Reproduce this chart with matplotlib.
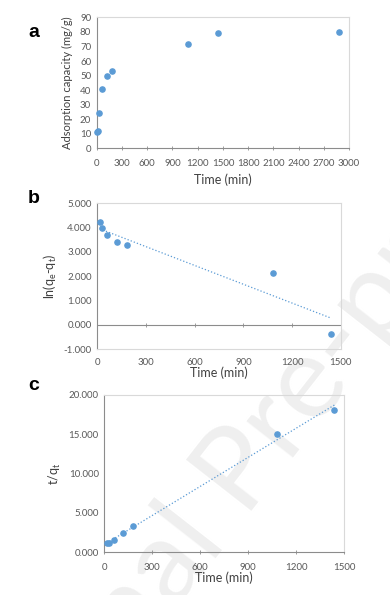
import matplotlib
matplotlib.use("Agg")
import matplotlib.pyplot as plt
import numpy as np
from matplotlib.ticker import FormatStrFormatter, MultipleLocator

plt.rcParams["font.family"] = ["Lato", "DejaVu Sans"]

# ======= data =======
# (a) adsorption capacity vs time
time_a = [5, 15, 30, 60, 120, 180, 1080, 1440, 2880]
qt_a = [11.0, 12.2, 24.5, 40.5, 49.5, 53.1, 71.6, 79.5, 80.2]

# (b) pseudo-first-order plot
time_b = [15, 30, 60, 120, 180, 1080, 1440]
ln_b = [4.22, 4.00, 3.69, 3.42, 3.30, 2.14, -0.36]

# (c) pseudo-second-order plot
time_c = [15, 30, 60, 120, 180, 1080, 1440]
tq_c = [1.20, 1.20, 1.50, 2.40, 3.40, 15.10, 18.10]

blue = "#5B9BD5"
tick_col = "#595959"
axis_col = "#8c8c8c"
frame_col = "#d9d9d9"

fig = plt.figure(figsize=(3.9, 5.95), dpi=100)

# watermark
fig.text(0.64, 0.225, "Journal Pre-proof", fontsize=84, color="#efefef",
         rotation=52, ha="center", va="center", zorder=-1)


def style(ax):
    ax.set_facecolor("none")
    for s in ["top", "right"]:
        ax.spines[s].set_color(frame_col)
        ax.spines[s].set_linewidth(0.8)
    for s in ["left", "bottom"]:
        ax.spines[s].set_color(axis_col)
        ax.spines[s].set_linewidth(0.8)
    ax.tick_params(labelsize=7, colors=tick_col, length=3, width=0.6,
                   direction="inout", color=axis_col)
    ax.tick_params(axis="y", length=0, pad=4)


# ======= a =======
ax1 = fig.add_axes([0.248, 0.7508, 0.647, 0.220])
style(ax1)
ax1.scatter(time_a, qt_a, s=14, color=blue, zorder=3, clip_on=False)
ax1.set_xlim(0, 3000)
ax1.set_ylim(0, 90)
ax1.xaxis.set_major_locator(MultipleLocator(300))
ax1.yaxis.set_major_locator(MultipleLocator(10))
ax1.set_xlabel("Time (min)", fontsize=9, color="#404040", labelpad=4)
ax1.set_ylabel("Adsorption capacity (mg/g)", fontsize=8, color="#404040", labelpad=5)
ax1.tick_params(axis="x", pad=6)

# ======= b =======
ax2 = fig.add_axes([0.2495, 0.4129, 0.624, 0.2454])
style(ax2)
ax2.spines["bottom"].set_color(frame_col)
ax2.tick_params(axis="x", length=0, pad=6)
ax2.scatter(time_b, ln_b, s=14, color=blue, zorder=3, clip_on=False)
kb = np.polyfit(time_b, ln_b, 1)
xb = np.array([time_b[0], time_b[-1]])
ax2.plot(xb, np.polyval(kb, xb), ":", color=blue, linewidth=0.9, zorder=2)
ax2.set_xlim(0, 1500)
ax2.set_ylim(-1, 5)
ax2.xaxis.set_major_locator(MultipleLocator(300))
ax2.yaxis.set_major_locator(MultipleLocator(1))
ax2.yaxis.set_major_formatter(FormatStrFormatter("%.3f"))
ax2.axhline(0, color=axis_col, linewidth=0.8, zorder=1)
zero_ax = ax2.secondary_xaxis(1 / 6)
zero_ax.spines["bottom"].set_visible(False)
zero_ax.xaxis.set_major_locator(MultipleLocator(300))
zero_ax.tick_params(length=3, width=0.6, direction="inout", color=axis_col,
                    labelbottom=False)
ax2.set_xlabel("Time (min)", fontsize=9, color="#404040", labelpad=0)
ax2.set_ylabel("ln(q$_\\mathregular{e}$-q$_\\mathregular{t}$)", fontsize=9,
               color="#404040", labelpad=3)

# ======= c =======
ax3 = fig.add_axes([0.2674, 0.0718, 0.6146, 0.2644])
style(ax3)
ax3.scatter(time_c, tq_c, s=14, color=blue, zorder=3, clip_on=False)
kc = np.polyfit(time_c, tq_c, 1)
xc = np.array([time_c[0], time_c[-1]])
ax3.plot(xc, np.polyval(kc, xc), ":", color=blue, linewidth=0.9, zorder=2)
ax3.set_xlim(0, 1500)
ax3.set_ylim(0, 20)
ax3.xaxis.set_major_locator(MultipleLocator(300))
ax3.yaxis.set_major_locator(MultipleLocator(5))
ax3.yaxis.set_major_formatter(FormatStrFormatter("%.3f"))
ax3.tick_params(axis="x", pad=6)
ax3.set_xlabel("Time (min)", fontsize=9, color="#404040", labelpad=0)
ax3.set_ylabel("t/q$_\\mathregular{t}$", fontsize=9, color="#404040", labelpad=4)

# ======= panel letters =======
for y, letter in [(0.946, "a"), (0.667, "b"), (0.352, "c")]:
    fig.text(0.087, y, letter, fontsize=14, fontweight="bold", ha="center",
             va="center", family="Liberation Sans")

plt.savefig("out.png", dpi=100)
